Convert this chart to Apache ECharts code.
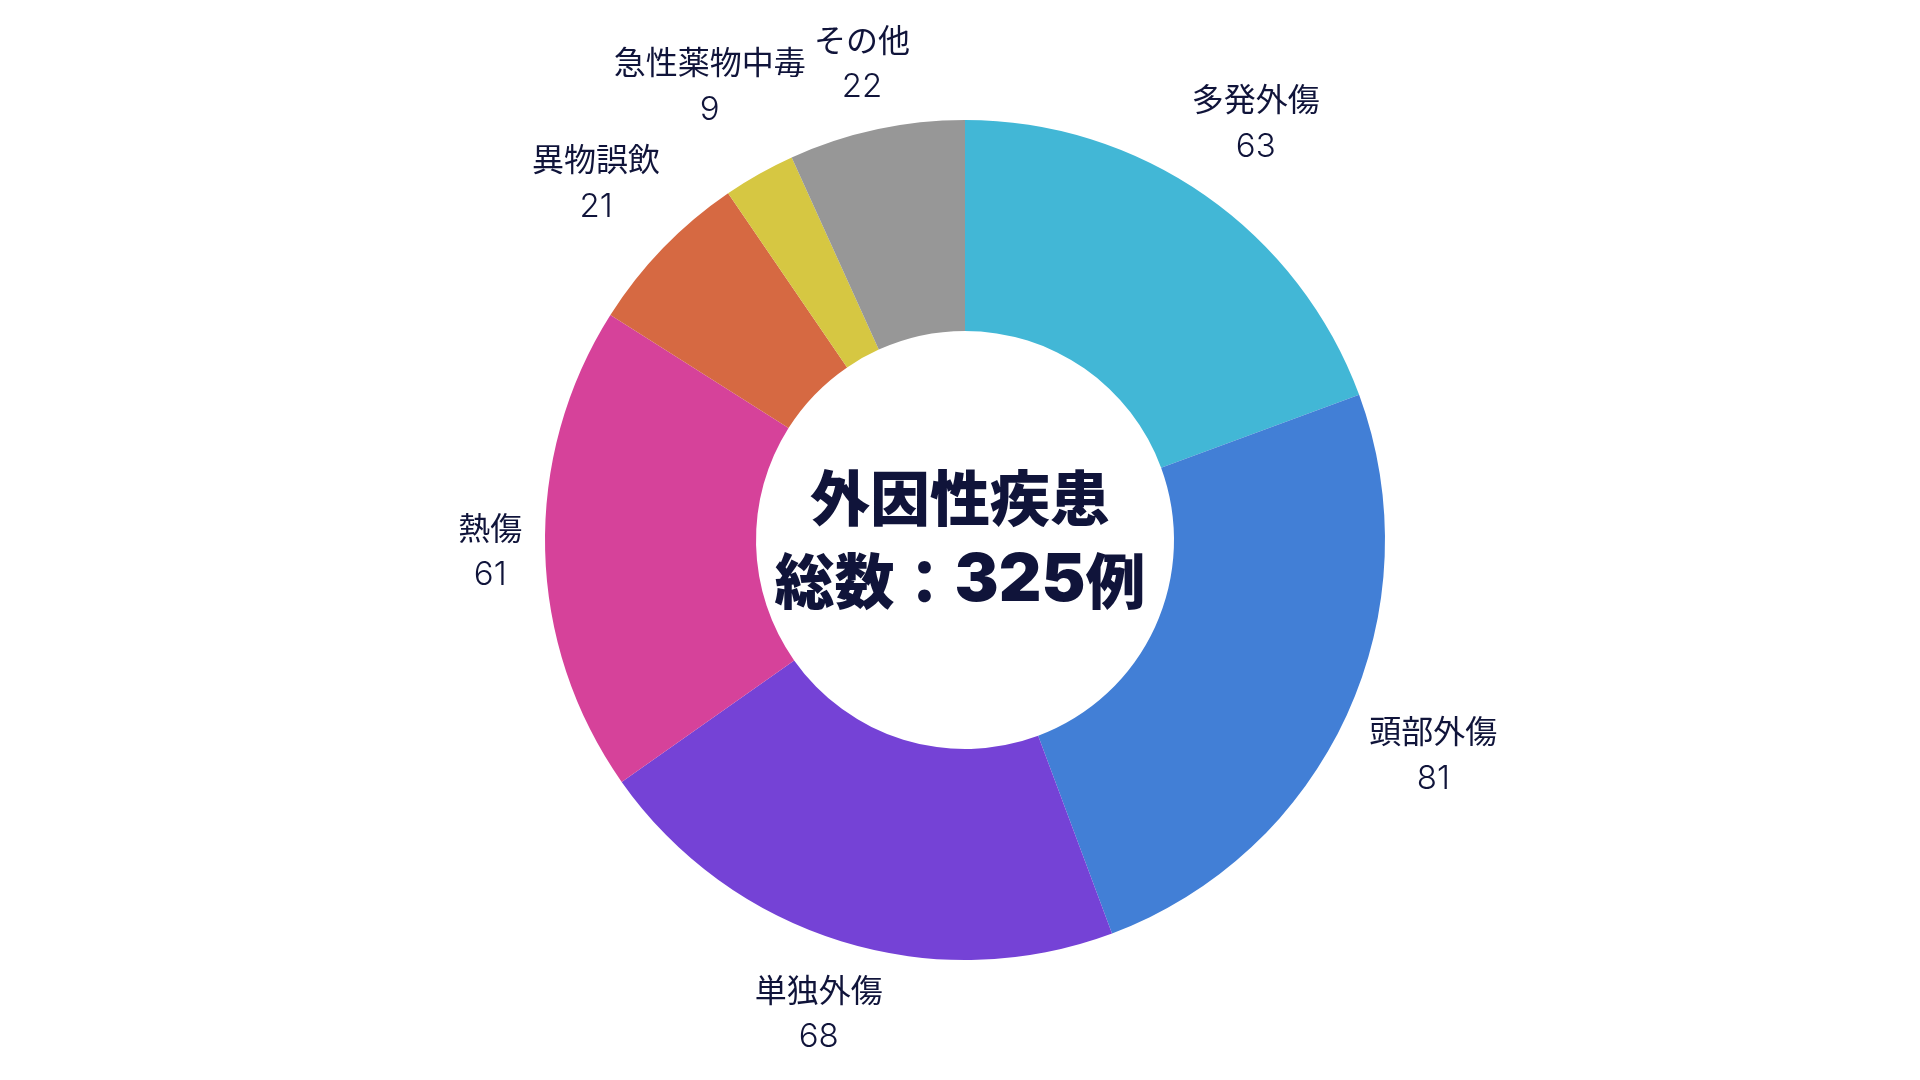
<!DOCTYPE html>
<html>
<head>
<meta charset="utf-8">
<title>外因性疾患</title>
<script src="https://cdn.jsdelivr.net/npm/echarts@6/dist/echarts.min.js"></script>
<style>
  html, body { margin: 0; padding: 0; background: #fff; }
  #chart { width: 1920px; height: 1080px; }
</style>
</head>
<body>
<div id="chart"></div>
<script>
// データ（時計回り、上から）
const categories = ['多発外傷', '頭部外傷', '単独外傷', '熱傷', '異物誤飲', '急性薬物中毒', 'その他']
const counts = [63, 81, 68, 61, 21, 9, 22]
const colors = ['#42b7d6', '#427fd6', '#7542d6', '#d6429a', '#d66942', '#d6c742', '#979797']
const centerTitle = '外因性疾患'
const centerTotal = '325'

const CX = 965
const CY = 540
const OUTER = 420
const INNER = 209
const GAP = 22
const textColor = '#10143a'
const fontFamily = '"Noto Sans CJK JP", "Noto Sans", sans-serif'
const numFamily = 'Inter, "Noto Sans CJK JP", sans-serif'

const chartDom = document.getElementById('chart')
const chart = echarts.init(chartDom)

const total = counts.reduce((a, b) => a + b, 0)

// ラベルを扇形の中心角方向、外周から少し離して置く
const placeLabel = params => {
  let before = 0
  for (let i = 0; i < params.dataIndex; i++) before += counts[i]
  const theta = (before + counts[params.dataIndex] / 2) / total * Math.PI * 2
  const dx = Math.sin(theta)
  const dy = -Math.cos(theta)
  const hw = params.labelRect.width / 2
  const hh = params.labelRect.height / 2 - 4
  const dist = OUTER + GAP + hw * Math.abs(dx) + hh * Math.abs(dy)
  return {
    x: CX + dist * dx,
    y: CY + dist * dy,
    align: 'center',
    verticalAlign: 'middle'
  }
}

const opt = {
  backgroundColor: '#fff',
  animation: false,
  title: {
    text: '{a|' + centerTitle + '}\n{a|総数：}{n|' + centerTotal + '}{a|例}',
    left: 'center',
    top: 'middle',
    textStyle: {
      rich: {
        a: {
          fontFamily: fontFamily,
          fontSize: 60,
          fontWeight: 900,
          lineHeight: 83,
          color: textColor
        },
        n: {
          fontFamily: numFamily,
          fontSize: 66,
          fontWeight: 900,
          lineHeight: 83,
          color: textColor
        }
      }
    }
  },
  series: [
    {
      type: 'pie',
      center: [CX, CY],
      radius: [INNER, OUTER],
      startAngle: 90,
      clockwise: true,
      avoidLabelOverlap: false,
      data: categories.map((name, i) => ({
        name: name,
        value: counts[i],
        itemStyle: { color: colors[i] }
      })),
      itemStyle: { borderWidth: 0 },
      label: {
        show: true,
        position: 'outside',
        formatter: '{t|{b}}\n{v|{c}}',
        align: 'center',
        rich: {
          t: {
            fontFamily: fontFamily,
            fontSize: 32,
            lineHeight: 48,
            color: textColor,
            align: 'center'
          },
          v: {
            fontFamily: numFamily,
            fontSize: 33,
            fontWeight: 300,
            lineHeight: 48,
            color: textColor,
            align: 'center'
          }
        }
      },
      labelLine: { show: false },
      labelLayout: placeLabel,
      emphasis: { disabled: true }
    }
  ]
}

chart.setOption(opt, true)
</script>
</body>
</html>
